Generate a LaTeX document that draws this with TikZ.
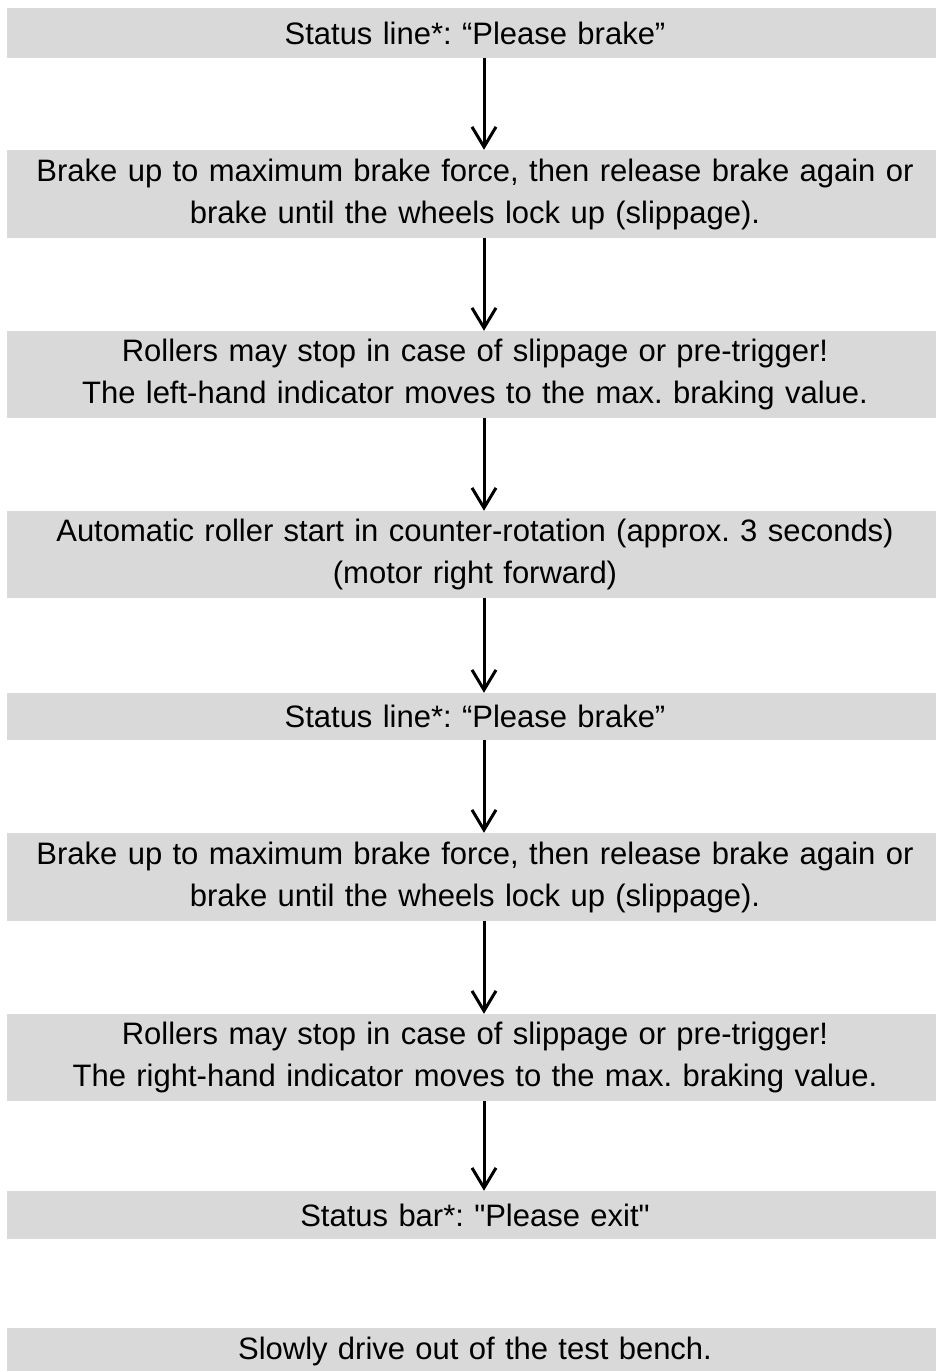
\documentclass[tikz,border=0pt]{standalone}
\usepackage{fontspec}
\setmainfont{Liberation Sans}
\usetikzlibrary{arrows.meta}
\begin{document}
\frenchspacing
\begin{tikzpicture}[x=1pt,y=-1pt,
  box/.style={fill=boxgray, draw=none, inner sep=0pt, minimum width=936pt,
    text width=920pt, align=center, font=\fontsize{31}{42}\selectfont\frenchspacing},
  arr/.style={line width=3pt, -{Straight Barb[length=20pt,width=24pt,line width=3pt]}}]
\definecolor{boxgray}{HTML}{D9D9D9}
\useasboundingbox (0,0) rectangle (935,1371);
\coordinate (ax) at (484,0);
\node[box, minimum height=50pt] (b1) at (475,33) {Status line*: “Please brake”};
\node[box, minimum height=88pt] (b2) at (475,194) {Brake up to maximum brake force, then release brake again or\\brake until the wheels lock up (slippage).};
\node[box, minimum height=87pt] (b3) at (475,374.5) {Rollers may stop in case of slippage or pre-trigger!\\The left-hand indicator moves to the max. braking value.};
\node[box, minimum height=87pt] (b4) at (475,554.5) {Automatic roller start in counter-rotation (approx. 3 seconds)\\(motor right forward)};
\node[box, minimum height=47pt] (b5) at (475,716.5) {Status line*: “Please brake”};
\node[box, minimum height=88pt] (b6) at (475,877) {Brake up to maximum brake force, then release brake again or\\brake until the wheels lock up (slippage).};
\node[box, minimum height=87pt] (b7) at (475,1057.5) {Rollers may stop in case of slippage or pre-trigger!\\The right-hand indicator moves to the max. braking value.};
\node[box, minimum height=48pt] (b8) at (475,1215) {Status bar*: \textquotedbl Please exit\textquotedbl};
\node[box, minimum height=46pt] (b9) at (475,1351) {Slowly drive out of the test bench.};
\foreach \a/\b in {b1/b2,b2/b3,b3/b4,b4/b5,b5/b6,b6/b7,b7/b8}
  \draw[arr] (\a.south -| ax) -- (\b.north -| ax);
\end{tikzpicture}
\end{document}
